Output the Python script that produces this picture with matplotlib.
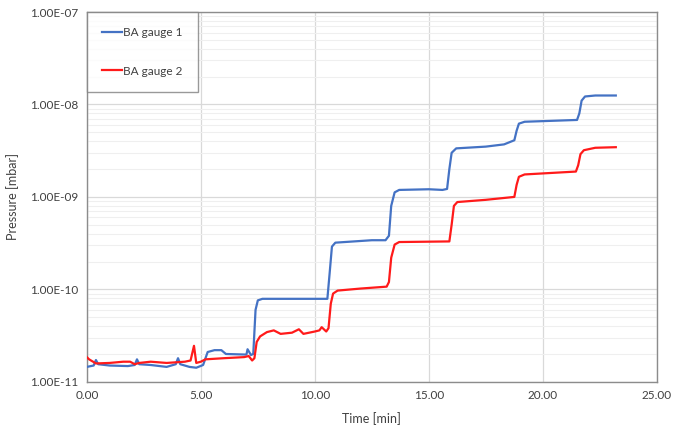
import matplotlib
matplotlib.use('Agg')
import matplotlib.pyplot as plt
from matplotlib.ticker import FuncFormatter, LogLocator, MultipleLocator

bluecol = '#4472c4'
redcol  = '#ff1a1a'
gridmaj = '#d9d9d9'
gridmin = '#efefef'
textcol = '#404040'

# BA gauge 1
t_g1 = [0.0, 0.3, 0.4, 0.5, 1.0, 1.8, 2.1, 2.2, 2.3, 2.8, 3.5, 3.9, 4.0, 4.1, 4.5,
        4.8, 5.1, 5.3, 5.6, 5.9, 6.1, 7.0, 7.05, 7.2, 7.3, 7.4, 7.5, 7.7, 10.55,
        10.65, 10.75, 10.9, 12.5, 13.1, 13.25, 13.35, 13.5, 13.7, 15.0, 15.6, 15.8,
        15.9, 16.0, 16.2, 17.5, 18.3, 18.75, 18.85, 18.95, 19.2, 21.5, 21.6, 21.7,
        21.85, 22.3, 23.2]
p_g1 = [1.45e-11, 1.5e-11, 1.72e-11, 1.55e-11, 1.5e-11, 1.48e-11, 1.52e-11, 1.75e-11,
        1.55e-11, 1.52e-11, 1.45e-11, 1.55e-11, 1.8e-11, 1.55e-11, 1.45e-11, 1.42e-11,
        1.52e-11, 2.1e-11, 2.2e-11, 2.2e-11, 2.0e-11, 1.97e-11, 2.25e-11, 1.95e-11,
        2.0e-11, 6.0e-11, 7.6e-11, 7.9e-11, 7.9e-11, 1.5e-10, 2.9e-10, 3.2e-10,
        3.4e-10, 3.4e-10, 3.8e-10, 8e-10, 1.12e-9, 1.19e-9, 1.21e-9, 1.19e-9, 1.22e-9,
        2.0e-9, 3.0e-9, 3.35e-9, 3.5e-9, 3.7e-9, 4.1e-9, 5.2e-9, 6.2e-9, 6.5e-9,
        6.8e-9, 8e-9, 1.1e-8, 1.22e-8, 1.25e-8, 1.25e-8]

# BA gauge 2
t_g2 = [0.0, 0.1, 0.4, 1.0, 1.6, 1.9, 2.1, 2.3, 2.8, 3.5, 4.3, 4.55, 4.7, 4.8, 5.0,
        5.2, 6.0, 6.9, 7.1, 7.25, 7.35, 7.45, 7.6, 7.9, 8.2, 8.5, 9.0, 9.3, 9.5, 10.0,
        10.2, 10.3, 10.5, 10.6, 10.7, 10.8, 11.0, 12.0, 13.15, 13.25, 13.35, 13.5,
        13.7, 15.9, 16.0, 16.1, 16.25, 17.5, 18.75, 18.85, 18.95, 19.2, 21.45, 21.55,
        21.65, 21.8, 22.3, 23.2]
p_g2 = [1.85e-11, 1.75e-11, 1.58e-11, 1.6e-11, 1.65e-11, 1.65e-11, 1.55e-11, 1.6e-11,
        1.65e-11, 1.6e-11, 1.65e-11, 1.7e-11, 2.45e-11, 1.6e-11, 1.65e-11, 1.75e-11,
        1.8e-11, 1.85e-11, 1.9e-11, 1.7e-11, 1.8e-11, 2.7e-11, 3.1e-11, 3.45e-11,
        3.6e-11, 3.3e-11, 3.4e-11, 3.7e-11, 3.3e-11, 3.5e-11, 3.6e-11, 3.9e-11,
        3.5e-11, 3.8e-11, 7e-11, 9e-11, 9.7e-11, 1.02e-10, 1.07e-10, 1.2e-10, 2.2e-10,
        3.05e-10, 3.25e-10, 3.3e-10, 5e-10, 8e-10, 8.8e-10, 9.3e-10, 1.0e-9, 1.35e-9,
        1.65e-9, 1.75e-9, 1.88e-9, 2.2e-9, 2.9e-9, 3.2e-9, 3.4e-9, 3.45e-9]

plt.rcParams['font.family'] = ['Lato', 'DejaVu Sans']

fig = plt.figure(figsize=(6.73, 4.29), dpi=100)
ax = fig.add_axes([0.129, 0.110, 0.847, 0.862])

ax.plot(t_g1, p_g1, color=bluecol, lw=1.6, label='BA gauge 1', zorder=3)
ax.plot(t_g2, p_g2, color=redcol, lw=1.6, label='BA gauge 2', zorder=3)

ax.set_yscale('log')
ax.set_xlim(0, 25)
ax.set_ylim(1e-11, 1e-7)
ax.xaxis.set_major_locator(MultipleLocator(5))
ax.xaxis.set_major_formatter(FuncFormatter(lambda v, _: f'{v:.2f}'))
ax.yaxis.set_major_locator(LogLocator(base=10, numticks=10))
ax.yaxis.set_minor_locator(LogLocator(base=10, subs=range(2, 10), numticks=20))
ax.yaxis.set_major_formatter(FuncFormatter(lambda v, _: f'{v:.2E}'))
ax.yaxis.set_minor_formatter(FuncFormatter(lambda v, _: ''))

ax.grid(True, which='major', color=gridmaj, lw=0.9, zorder=0)
ax.grid(True, which='minor', axis='y', color=gridmin, lw=0.8, zorder=0)
ax.set_axisbelow(True)
ax.tick_params(which='both', length=0, colors=textcol, labelsize=8.5, pad=6)

for s in ax.spines.values():
    s.set_color('#8c8c8c')
    s.set_linewidth(1.0)

ax.set_xlabel('Time [min]', color=textcol, fontsize=9, labelpad=8)
ax.set_ylabel('Pressure [mbar]', color=textcol, fontsize=9, labelpad=8)

leg = ax.legend(loc='upper left', bbox_to_anchor=(0, 1), borderaxespad=0,
                fancybox=False, frameon=True, fontsize=8.5, labelspacing=2.3,
                handlelength=1.7, handletextpad=0.1, borderpad=1.3,
                labelcolor=textcol)
leg.get_frame().set_edgecolor('#808080')
leg.get_frame().set_linewidth(1.0)

fig.savefig('out.png', dpi=100, facecolor='white')
